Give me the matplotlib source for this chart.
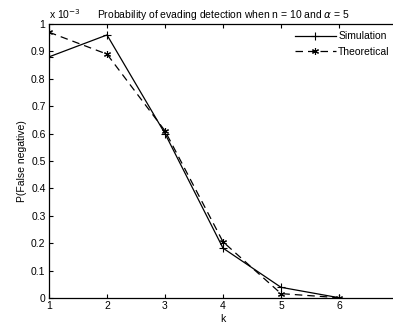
import matplotlib
matplotlib.use("Agg")
import matplotlib.pyplot as plt

k = [1, 2, 3, 4, 5, 6]
simulation = [0.88e-3, 0.96e-3, 0.60e-3, 0.182e-3, 0.039e-3, 0.001e-3]
theoretical = [0.97e-3, 0.89e-3, 0.61e-3, 0.205e-3, 0.016e-3, 0.001e-3]
yticks = [i * 0.1e-3 for i in range(11)]
ytick_labels = ["0", "0.1", "0.2", "0.3", "0.4", "0.5", "0.6", "0.7", "0.8", "0.9", "1"]

plt.rcParams['font.family'] = ['Liberation Sans', 'DejaVu Sans']
fs = 7.5

fig = plt.figure(figsize=(3.93, 3.26), dpi=100)
ax = fig.add_axes([49/393, 28/326, 348/393, 274/326])

ax.plot(k, simulation, color='black', lw=0.9, marker='+', ms=6, mew=0.8, label='Simulation')
ax.plot(k, theoretical, color='black', lw=0.9, ls=(0, (6, 4)), marker=(6, 2, 0), ms=5, mew=0.8, label='Theoretical')

ax.set_xlim(1, 7)
ax.set_ylim(0, 1e-3)
ax.set_xticks(k)
ax.set_xticklabels([str(v) for v in k], fontsize=fs)
ax.set_yticks(yticks)
ax.set_yticklabels(ytick_labels, fontsize=fs)
ax.tick_params(direction='in', length=3, width=0.8, top=True, right=True, pad=2.5)
for s in ax.spines.values():
    s.set_linewidth(0.9)

ax.text(0.0, 1.012, r"x 10$^{-3}$", transform=ax.transAxes, fontsize=fs, ha='left', va='bottom')
ax.set_title(r"Probability of evading detection when n = 10 and $\alpha$ = 5", fontsize=fs, pad=4)
ax.set_xlabel("k", fontsize=fs, labelpad=2)
ax.set_ylabel("P(False negative)", fontsize=fs, labelpad=3)

leg = ax.legend(loc='upper right', bbox_to_anchor=((397 - 49)/348, 1.0), frameon=False,
                fontsize=fs, handlelength=3.9, handletextpad=0.25, labelspacing=0.55,
                borderaxespad=0.3)

fig.savefig("out.png", dpi=100)
